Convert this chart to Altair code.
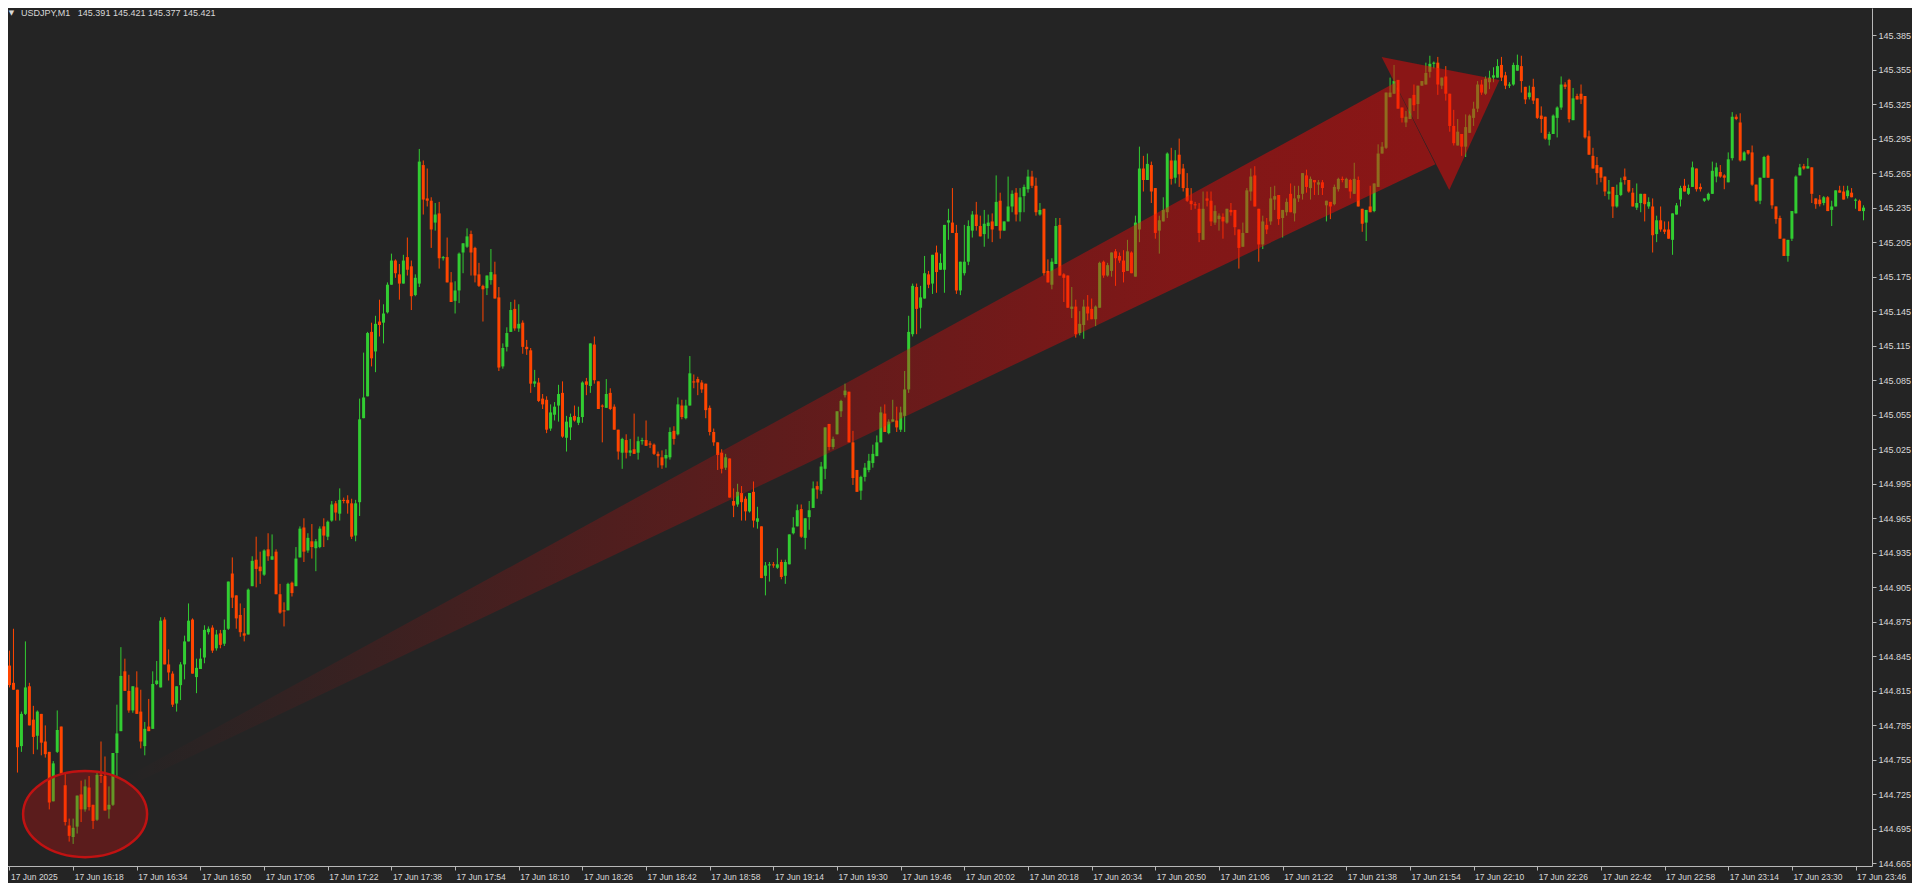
import json
import altair as alt
import pandas as pd

# ---------------- data (prices in points above BASE_PRICE, 1 point = 0.001) ----------------
BASE_PRICE = 144.600

OPEN_PTS = [
    237,222,216,167,195,219,190,176,195,171, 162,119,162,184,133,98,88,97,125,112,
    131,116,103,142,141,112,116,161,180,232, 215,198,218,197,167,184,182,221,218,277,
    238,230,204,220,238,258,277,227,234,244, 266,270,252,265,256,269,317,298,281,265,
    264,306,329,323,316,338,329,336,299,285, 285,309,306,331,357,337,345,339,340,358,
    349,363,378,369,381,381,378,350,379,452, 471,527,510,536,535,544,568,589,577,569,
    592,584,559,569,672,643,641,622,630,591, 592,570,554,563,596,601,612,600,577,567,
    565,572,577,557,497,514,527,547,530,535, 514,511,482,483,469,468,443,455,463,474,
    435,444,454,448,453,484,480,516,484,463, 461,474,462,442,422,433,422,425,422,432,
    433,430,429,421,418,417,418,441,438,463, 452,463,484,486,483,482,461,440,431,422,
    409,417,380,377,387,382,371,388,362,358, 315,324,325,322,327,315,325,352,358,373,
    348,366,374,393,389,408,447,427,438,458, 472,475,431,407,389,401,407,413,419,431,
    456,439,449,450,442,454,477,525,566,548, 556,577,569,596,581,581,622,622,613,563,
    578,588,615,629,619,612,619,623,619,641, 615,623,636,648,631,645,651,662,654,629,
    634,580,568,586,620,577,576,547,549,526, 533,549,547,538,548,588,576,580,597,593,
    589,580,596,575,616,669,659,672,652,615, 623,631,676,661,681,669,652,641,638,634,
    607,643,641,622,625,627,622,633,633,616, 601,613,649,663,634,603,620,623,642,646,
    626,631,647,630,643,647,663,652,659,655, 657,637,640,638,651,660,652,659,647,659,
    634,622,636,632,653,682,687,731,734,746, 722,709,712,733,725,741,742,753,760,761,
    741,749,734,706,689,699,688,700,713,721, 742,734,744,748,748,759,750,741,742,754,
    758,740,731,740,730,715,714,694,699,713, 722,742,746,711,732,734,732,697,680,672,
    670,662,647,653,636,646,662,659,648,635, 639,647,636,636,612,624,616,616,607,629,
    642,654,647,653,669,653,641,642,647,662, 666,663,657,678,714,709,676,685,683,655,
    641,661,680,660,636,626,608,593,608,630, 663,671,669,670,643,642,639,644,633,636,
    650,649,645,648,641,641,632,
]
HIGH_PTS = [
    250,269,216,197,258,222,202,198,195,185, 162,154,198,184,144,104,104,124,137,138,
    141,116,145,171,158,132,161,203,253,243, 229,219,232,216,188,208,232,241,279,279,
    251,232,219,240,263,291,278,243,252,272, 271,272,268,268,277,310,331,298,291,287,
    304,332,349,336,338,352,351,338,308,292, 309,310,340,358,365,352,360,347,358,365,
    363,380,380,391,383,385,382,381,469,509, 527,535,541,555,551,570,595,590,586,594,
    609,589,577,686,676,669,644,639,640,593, 609,579,571,596,604,617,615,601,587,568,
    576,599,588,566,517,531,553,555,551,537, 520,513,494,487,473,471,464,466,481,484,
    454,456,463,462,484,487,517,523,484,464, 486,478,464,442,435,438,434,456,436,435,
    450,432,430,423,424,425,444,445,470,468, 468,506,490,488,485,482,463,443,431,425,
    421,417,391,395,393,384,387,397,375,358, 327,327,327,339,329,329,351,366,377,377,
    365,380,397,397,414,444,447,436,458,468, 482,475,441,407,402,413,421,429,437,462,
    464,451,468,462,462,493,541,569,569,567, 593,580,594,602,595,620,634,652,620,588,
    620,624,632,640,628,633,629,630,663,648, 623,662,650,652,652,655,668,667,661,639,
    634,590,591,626,626,578,576,566,555,545, 555,559,556,550,588,589,587,596,599,596,
    598,607,597,628,688,680,682,675,652,628, 644,683,687,685,695,673,665,652,640,639,
    649,649,649,637,630,630,634,639,633,616, 622,652,669,671,634,628,626,653,654,646,
    633,643,656,654,654,665,668,662,659,659, 659,641,640,655,661,662,661,660,674,662,
    634,633,654,656,690,692,735,748,759,746, 722,719,730,742,741,745,761,767,762,766,
    748,758,734,720,712,699,716,716,727,745, 746,749,754,757,764,766,753,744,761,768,
    767,740,741,747,730,723,714,701,716,723, 749,744,747,739,734,742,732,702,687,679,
    670,662,659,653,655,661,669,659,652,656, 647,647,644,643,628,636,623,623,630,639,
    654,660,655,675,669,656,643,648,675,674, 672,664,683,718,716,717,684,685,689,655,
    661,680,681,660,636,628,608,607,632,663, 673,673,678,670,643,646,645,645,641,650,
    654,654,654,652,643,642,637,
]
LOW_PTS = [
    218,216,144,162,194,185,160,164,159,157, 112,119,161,143,98,84,82,91,101,110,
    111,95,102,135,111,104,115,141,180,215, 196,196,195,165,159,180,182,220,218,238,
    224,201,197,207,225,258,230,213,234,239, 264,248,250,252,254,268,287,269,262,258,
    264,306,305,308,315,328,329,299,282,271, 285,297,306,331,327,335,330,319,339,340,
    346,362,363,363,378,369,347,345,367,452, 471,497,492,523,517,543,568,574,555,569,
    576,546,558,566,629,636,600,615,582,589, 570,553,543,552,578,600,576,570,566,536,
    559,568,556,493,495,510,527,528,527,508, 507,474,479,466,460,439,441,450,449,435,
    423,433,449,446,448,472,474,482,460,431, 461,459,442,416,408,417,419,421,416,429,
    428,426,420,409,408,409,416,429,437,451, 451,463,478,472,474,452,437,428,407,404,
    407,383,366,375,363,363,370,357,356,313, 298,310,322,321,312,308,325,351,358,348,
    338,355,374,382,386,399,424,425,438,453, 470,431,394,388,381,397,405,409,419,431,
    440,438,449,440,440,440,474,523,525,530, 556,565,560,561,581,561,607,613,560,559,
    576,585,609,615,610,601,608,605,619,608, 615,623,631,623,623,631,648,652,628,628,
    576,570,564,586,576,553,548,539,522,524, 521,537,538,532,548,574,575,575,567,587,
    570,580,578,575,605,649,659,639,608,595, 623,626,655,656,653,649,640,633,634,605,
    607,636,619,620,615,608,621,628,611,582, 601,613,641,636,588,599,612,620,633,620,
    609,628,631,623,640,642,648,642,646,646, 646,623,625,637,649,657,652,643,647,636,
    614,606,631,631,653,682,686,731,734,721, 709,705,712,719,712,741,742,748,756,733,
    738,728,701,689,689,680,679,700,706,718, 733,733,738,744,748,745,738,739,741,754,
    735,725,729,725,712,700,694,689,699,696, 720,738,709,711,729,725,695,681,669,655,
    657,645,642,626,635,645,655,648,636,633, 631,623,634,596,605,614,612,608,594,629,
    636,649,646,653,649,649,640,641,647,657, 661,651,657,676,711,675,676,681,654,640,
    638,661,661,634,621,608,593,588,606,630, 663,668,669,639,634,636,637,632,619,636,
    648,642,643,644,634,632,624,
]
CLOSE_PTS = [
    220,216,166,195,218,185,175,197,170,160, 118,152,181,143,101,89,96,124,112,132,
    114,102,142,141,111,116,161,178,228,215, 198,219,195,171,182,180,221,224,276,238,
    231,203,219,238,258,276,230,235,243,268, 269,250,264,255,268,310,296,278,266,263,
    303,328,321,319,337,332,332,299,283,284, 308,300,330,356,336,348,340,345,356,350,
    362,377,370,381,380,378,349,378,451,470, 526,504,534,533,543,568,589,578,569,589,
    581,558,574,675,642,641,616,629,591,592, 570,553,563,595,604,610,596,576,567,564,
    576,579,556,496,513,526,546,530,534,514, 512,482,484,467,464,442,457,462,473,436,
    449,453,450,453,483,481,517,485,460,462, 473,460,442,423,434,422,424,421,432,433,
    428,429,421,419,411,420,440,434,464,453, 463,491,483,483,477,459,440,431,420,408,
    418,383,376,388,379,371,387,363,365,313, 324,325,324,325,314,327,351,357,372,349,
    365,372,391,390,410,444,427,434,458,467, 476,431,400,388,401,409,415,421,431,457,
    440,449,451,444,457,477,527,567,547,557, 578,568,594,579,587,620,624,613,563,588,
    588,619,629,619,610,621,622,616,640,615, 623,636,647,629,644,653,662,654,631,633,
    578,570,588,619,576,574,548,549,525,534, 549,543,538,549,587,576,585,596,591,589,
    579,597,578,622,669,659,673,649,613,624, 633,682,660,676,664,652,641,638,637,613,
    634,641,623,632,628,623,634,631,618,600, 613,650,662,636,603,623,616,643,645,625,
    633,640,631,643,646,665,653,660,657,657, 652,641,636,653,660,659,660,649,660,636,
    621,633,631,656,682,688,735,735,745,721, 713,714,730,724,741,745,752,760,761,742,
    748,734,706,691,701,688,705,715,721,742, 735,747,748,750,758,748,741,742,759,759,
    745,729,735,728,713,712,695,699,715,722, 742,740,712,730,729,729,696,681,669,665,
    661,649,649,636,646,657,659,649,636,639, 647,638,640,611,624,616,614,608,630,637,
    652,649,652,670,651,651,643,647,667,670, 662,661,677,714,712,676,683,682,655,641,
    661,679,661,637,625,608,593,607,632,662, 670,669,671,647,638,638,644,632,636,650,
    648,642,650,644,642,632,635,
]

# x-axis: every 16th one-minute bar, starting 17 Jun 16:02
TICK_INDEX = [0, 16, 32, 48, 64, 80, 96, 112, 128, 144, 160, 176, 192, 208, 224,
              240, 256, 272, 288, 304, 320, 336, 352, 368, 384, 400, 416, 432, 448, 464]
TICK_LABELS = ["17 Jun 2025", "17 Jun 16:18", "17 Jun 16:34", "17 Jun 16:50", "17 Jun 17:06",
               "17 Jun 17:22", "17 Jun 17:38", "17 Jun 17:54", "17 Jun 18:10", "17 Jun 18:26",
               "17 Jun 18:42", "17 Jun 18:58", "17 Jun 19:14", "17 Jun 19:30", "17 Jun 19:46",
               "17 Jun 20:02", "17 Jun 20:18", "17 Jun 20:34", "17 Jun 20:50", "17 Jun 21:06",
               "17 Jun 21:22", "17 Jun 21:38", "17 Jun 21:54", "17 Jun 22:10", "17 Jun 22:26",
               "17 Jun 22:42", "17 Jun 22:58", "17 Jun 23:14", "17 Jun 23:30", "17 Jun 23:46"]
PRICE_TICKS = [144.665, 144.695, 144.725, 144.755, 144.785, 144.815, 144.845, 144.875, 144.905,
               144.935, 144.965, 144.995, 145.025, 145.055, 145.085, 145.115, 145.145, 145.175,
               145.205, 145.235, 145.265, 145.295, 145.325, 145.355, 145.385]

HEADER = "USDJPY,M1\u00a0\u00a0 145.391 145.421 145.377 145.421"

# annotation shapes (bar index, price)
SHAFT_X = [28.375, 348.125, 358.375]
SHAFT_TOP = [144.7383, 145.3433, 145.2728]
SHAFT_BOTTOM = [144.7296, 145.2559, 145.2728]
HEAD_X = [344.875, 361.875, 374.5]
HEAD_TOP = [145.3659, 145.3545, 145.3460]
HEAD_BOTTOM = [145.3659, 145.2503, 145.3460]
CIRCLE_X = [19.0]
CIRCLE_Y = [144.7079]

# ---------------- build ----------------
n = len(CLOSE_PTS)
df = pd.DataFrame({
    "i": list(range(n)),
    "open": [round(BASE_PRICE + v / 1000, 3) for v in OPEN_PTS],
    "high": [round(BASE_PRICE + v / 1000, 3) for v in HIGH_PTS],
    "low": [round(BASE_PRICE + v / 1000, 3) for v in LOW_PTS],
    "close": [round(BASE_PRICE + v / 1000, 3) for v in CLOSE_PTS],
})
df["dir"] = ["up" if c >= o else "down" for o, c in zip(OPEN_PTS, CLOSE_PTS)]

BG = "#242424"
AXIS_COL = "#B8B8B8"
TXT_COL = "#D8D8D8"

xscale = alt.Scale(domain=[-0.125, 466.875], nice=False, zero=False)
yscale = alt.Scale(domain=[144.6628, 145.4085], nice=False, zero=False)
color = alt.Color("dir:N", scale=alt.Scale(domain=["up", "down"], range=["#32CD32", "#FF4500"]), legend=None)

x_axis = alt.Axis(
    values=TICK_INDEX,
    labelExpr=json.dumps(TICK_LABELS) + "[round(datum.value / 16)]",
    labelAlign="left", labelBaseline="top", labelPadding=2, labelOffset=1,
    labelFont="Liberation Sans", labelFontSize=8.5, labelColor=TXT_COL,
    tickColor=AXIS_COL, tickSize=4, domainColor=AXIS_COL, grid=False, title=None,
    labelOverlap=False, labelFlush=False, labelBound=False,
)
y_axis = alt.Axis(
    orient="right", values=PRICE_TICKS, format=".3f",
    labelFont="Liberation Sans", labelFontSize=9, labelColor=TXT_COL, labelPadding=2,
    labelAlign="left", labelBaseline="middle",
    tickColor=AXIS_COL, tickSize=4, domainColor=AXIS_COL, grid=False, title=None,
    labelOverlap=False, labelFlush=False, labelBound=False,
)


def X(field):
    return alt.X(field, scale=xscale, axis=x_axis)


def Y(field):
    return alt.Y(field, scale=yscale, axis=y_axis)


base = alt.Chart(df)
wicks = base.mark_rule(strokeWidth=1, clip=True).encode(
    x=X("i:Q"), y=Y("low:Q"), y2="high:Q", color=color,
)
bodies = base.mark_bar(size=3, clip=True).encode(
    x=X("i:Q"), y=Y("open:Q"), y2="close:Q", color=color,
)

shaft_df = pd.DataFrame({"i": SHAFT_X, "low": SHAFT_BOTTOM, "high": SHAFT_TOP})
shaft = alt.Chart(shaft_df).mark_area(
    opacity=1, strokeWidth=0,
    color=alt.LinearGradient(
        gradient="linear", x1=0, x2=1, y1=0, y2=0,
        stops=[
            alt.GradientStop(color="rgba(240,8,8,0)", offset=0),
            alt.GradientStop(color="rgba(240,8,8,0.26)", offset=0.45),
            alt.GradientStop(color="rgba(240,8,8,0.45)", offset=0.8),
            alt.GradientStop(color="rgba(240,8,8,0.5)", offset=1),
        ],
    ),
).encode(x=X("i:Q"), y=Y("high:Q"), y2="low:Q")

head_df = pd.DataFrame({"i": HEAD_X, "low": HEAD_BOTTOM, "high": HEAD_TOP})
head = alt.Chart(head_df).mark_area(color="#F00808", opacity=0.5, strokeWidth=0).encode(
    x=X("i:Q"), y=Y("high:Q"), y2="low:Q",
)

ellipse_df = pd.DataFrame({"i": CIRCLE_X, "low": CIRCLE_Y})
ellipse = alt.Chart(ellipse_df).mark_point(
    shape="M-1,0A1,0.694,0,1,0,1,0A1,0.694,0,1,0,-1,0Z",
    size=15376, filled=True, fill="#F00808", fillOpacity=0.27,
    stroke="#C01212", strokeWidth=2.5, strokeOpacity=1, opacity=1,
).encode(x=X("i:Q"), y=Y("low:Q"))

hdr_df = pd.DataFrame({"t": [HEADER], "tri": ["\u25bc"]})
header_tri = alt.Chart(hdr_df).mark_text(
    font="DejaVu Sans", fontSize=7, color=TXT_COL, align="center", baseline="middle",
).encode(x=alt.value(7.5), y=alt.value(5), text="tri:N")
header_txt = alt.Chart(hdr_df).mark_text(
    font="Liberation Sans", fontSize=9, color=TXT_COL, align="left", baseline="middle",
).encode(x=alt.value(17), y=alt.value(5), text="t:N")

chart = alt.layer(wicks, bodies, shaft, head, ellipse, header_tri, header_txt).properties(
    width=1868, height=858,
    autosize=alt.AutoSizeParams(type="none"),
    padding={"left": -4, "top": 0, "right": 40, "bottom": 17},
    background=BG,
).configure_view(stroke=None, fill=BG)

chart.save("out.html", embed_options={"renderer": "svg", "actions": False})
